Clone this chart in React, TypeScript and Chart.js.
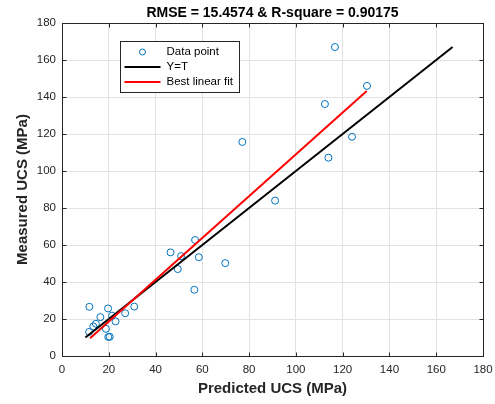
import React, { useEffect, useRef } from "react";
import { Chart, registerables } from "chart.js";

Chart.register(...registerables);

const predicted = [130.4, 116.7, 112.4, 124.0, 113.9, 77.1, 91.1, 69.8, 56.9, 46.4, 50.9, 58.5, 49.5, 56.6, 30.9, 27.0, 22.9, 11.7, 19.7, 16.4, 21.4, 18.8, 14.5, 13.4, 11.6, 19.8, 20.4];
const measured = [146.0, 167.0, 136.2, 118.5, 107.2, 115.7, 84.0, 50.2, 62.7, 56.0, 54.0, 53.4, 47.0, 35.8, 26.7, 23.1, 18.7, 26.6, 25.7, 21.0, 21.8, 14.7, 17.4, 16.0, 13.0, 10.3, 10.4];
const identityX = [10, 167];
const identityY = [10, 167];
const fitX = [12, 130.3];
const fitY = [9.6, 143.2];
const xTicks = [0, 20, 40, 60, 80, 100, 120, 140, 160, 180];
const yTicks = [0, 20, 40, 60, 80, 100, 120, 140, 160, 180];
const titleText = "RMSE = 15.4574 & R-square = 0.90175";
const xTitle = "Predicted UCS (MPa)";
const yTitle = "Measured UCS (MPa)";
const legendLabels = ["Data point", "Y=T", "Best linear fit"];

const FONT = "'Liberation Sans', Arial, Helvetica, sans-serif";
const AXIS = "#262626";
const BLUE = "#0072BD";

const boxPlugin = {
  id: "matlabBox",
  afterDraw(chart: any) {
    const { ctx, chartArea: a, scales } = chart;
    const L = Math.round(a.left) + 0.5;
    const R = Math.round(a.right) + 0.5;
    const T = Math.round(a.top) + 0.5;
    const B = Math.round(a.bottom) + 0.5;
    ctx.save();
    ctx.strokeStyle = AXIS;
    ctx.lineWidth = 1;
    ctx.strokeRect(L, T, R - L, B - T);
    const tl = 4;
    ctx.beginPath();
    for (const v of xTicks) {
      const x = Math.round(scales.x.getPixelForValue(v)) + 0.5;
      ctx.moveTo(x, B);
      ctx.lineTo(x, B - tl);
      ctx.moveTo(x, T);
      ctx.lineTo(x, T + tl);
    }
    for (const v of yTicks) {
      const y = Math.round(scales.y.getPixelForValue(v)) + 0.5;
      ctx.moveTo(L, y);
      ctx.lineTo(L + tl, y);
      ctx.moveTo(R, y);
      ctx.lineTo(R - tl, y);
    }
    ctx.stroke();

    // legend
    const lx = Math.round(a.left + 58) + 0.5;
    const ly = Math.round(a.top + 18) + 0.5;
    const lw = 119;
    const lh = 51;
    ctx.fillStyle = "#ffffff";
    ctx.fillRect(lx, ly, lw, lh);
    ctx.strokeStyle = AXIS;
    ctx.lineWidth = 1;
    ctx.strokeRect(lx, ly, lw, lh);
    const rows = [ly + 10.5, ly + 25.5, ly + 40.5];
    const symX0 = lx + 4;
    const symX1 = lx + 40;
    const textX = lx + 46;
    ctx.beginPath();
    ctx.strokeStyle = BLUE;
    ctx.arc((symX0 + symX1) / 2, rows[0], 3, 0, Math.PI * 2);
    ctx.stroke();
    ctx.lineWidth = 2;
    ctx.strokeStyle = "#000000";
    ctx.beginPath();
    ctx.moveTo(symX0, rows[1]);
    ctx.lineTo(symX1, rows[1]);
    ctx.stroke();
    ctx.strokeStyle = "#ff0000";
    ctx.beginPath();
    ctx.moveTo(symX0, rows[2]);
    ctx.lineTo(symX1, rows[2]);
    ctx.stroke();
    ctx.fillStyle = "#000000";
    ctx.font = `11.5px ${FONT}`;
    ctx.textBaseline = "middle";
    ctx.textAlign = "left";
    legendLabels.forEach((t, i) => ctx.fillText(t, textX, rows[i]));
    ctx.restore();
  },
};

export default function App() {
  const ref = useRef<HTMLCanvasElement>(null);
  useEffect(() => {
    const canvas = ref.current;
    if (!canvas) return;
    const points = predicted.map((x, i) => ({ x, y: measured[i] }));
    const idPts = identityX.map((x, i) => ({ x, y: identityY[i] }));
    const fitPts = fitX.map((x, i) => ({ x, y: fitY[i] }));
    const chart = new Chart(canvas, {
      type: "scatter",
      data: {
        datasets: [
          {
            label: legendLabels[0],
            data: points,
            showLine: false,
            pointStyle: "circle",
            pointRadius: 3.5,
            pointBorderWidth: 1,
            pointBorderColor: BLUE,
            pointBackgroundColor: "rgba(0,0,0,0)",
            order: 3,
          },
          {
            label: legendLabels[1],
            data: idPts,
            showLine: true,
            borderColor: "#000000",
            borderWidth: 2,
            pointRadius: 0,
            order: 2,
          },
          {
            label: legendLabels[2],
            data: fitPts,
            showLine: true,
            borderColor: "#ff0000",
            borderWidth: 2,
            pointRadius: 0,
            order: 1,
          },
        ],
      },
      options: {
        responsive: false,
        animation: false,
        devicePixelRatio: 1,
        layout: { padding: { left: 0, right: 12, top: 0, bottom: 0 } },
        plugins: {
          legend: { display: false },
          tooltip: { enabled: false },
          title: {
            display: true,
            text: titleText,
            fullSize: false,
            color: "#000000",
            font: { family: FONT, size: 14, weight: "bold" },
            padding: { top: 4.6, bottom: 1.6 },
          },
        },
        scales: {
          x: {
            type: "linear",
            min: 0,
            max: 180,
            afterBuildTicks: (s: any) => {
              s.ticks = xTicks.map((v) => ({ value: v }));
            },
            afterFit: (s: any) => {
              s.height = 48;
              s.paddingLeft = 0;
              s.paddingRight = 0;
            },
            ticks: {
              color: AXIS,
              font: { family: FONT, size: 11.5 },
              padding: 7,
              maxRotation: 0,
            },
            grid: { color: "#e3e3e3", drawTicks: false, lineWidth: 1 },
            border: { display: false },
            title: {
              display: true,
              text: xTitle,
              color: AXIS,
              font: { family: FONT, size: 15, weight: "bold" },
              padding: { top: 0, bottom: 6 },
            },
          },
          y: {
            type: "linear",
            min: 0,
            max: 180,
            afterBuildTicks: (s: any) => {
              s.ticks = yTicks.map((v) => ({ value: v }));
            },
            afterFit: (s: any) => {
              s.width = 62;
              s.paddingTop = 0;
              s.paddingBottom = 0;
            },
            ticks: {
              color: AXIS,
              font: { family: FONT, size: 11.5 },
              padding: 6,
            },
            grid: { color: "#e3e3e3", drawTicks: false, lineWidth: 1 },
            border: { display: false },
            title: {
              display: true,
              text: yTitle,
              color: AXIS,
              font: { family: FONT, size: 15, weight: "bold" },
              padding: { top: 13.6, bottom: 0 },
            },
          },
        },
      },
      plugins: [boxPlugin],
    });
    return () => chart.destroy();
  }, []);
  return (
    <div style={{ position: "absolute", left: 0, top: 0, width: 495, height: 404, background: "#fff" }}>
      <canvas ref={ref} width={495} height={404} />
    </div>
  );
}
